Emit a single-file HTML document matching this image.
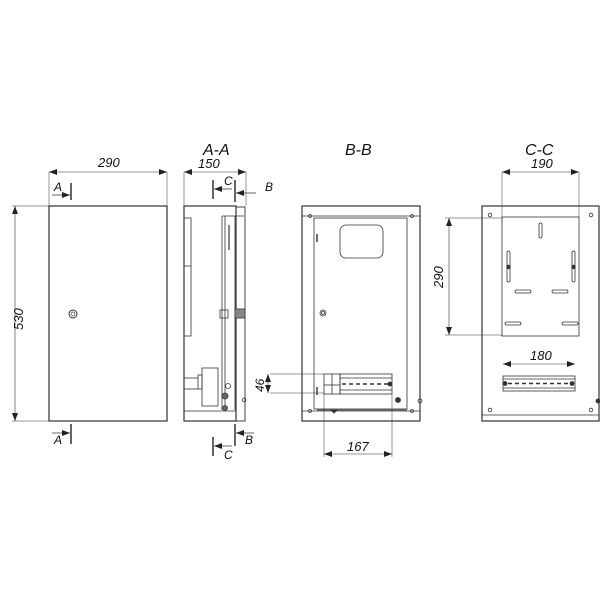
<!DOCTYPE html>
<html><head><style>
html,body{margin:0;padding:0;background:#fff;}
svg text{font-family:"Liberation Sans",sans-serif;font-style:italic;fill:#111;}
</style></head><body>
<svg width="600" height="600" viewBox="0 0 600 600" xmlns="http://www.w3.org/2000/svg">
<defs>
<marker id="ar" markerWidth="8" markerHeight="6" refX="8" refY="3" orient="auto-start-reverse" markerUnits="userSpaceOnUse">
<path d="M0,0 L8,3 L0,6 z" fill="#222"/></marker>
</defs>
<g stroke="#333" stroke-width="0.8" fill="none">
<rect x="49" y="206" width="118" height="215" stroke-width="1.2"/>
<line x1="49" y1="172" x2="49" y2="206" stroke-width="0.5"/>
<line x1="167" y1="172" x2="167" y2="206" stroke-width="0.5"/>
<line x1="49" y1="172" x2="167" y2="172" stroke-width="0.6" marker-start="url(#ar)" marker-end="url(#ar)"/>
<line x1="12" y1="206" x2="49" y2="206" stroke-width="0.5"/>
<line x1="12" y1="421" x2="49" y2="421" stroke-width="0.5"/>
<line x1="15" y1="206" x2="15" y2="421" stroke-width="0.6" marker-start="url(#ar)" marker-end="url(#ar)"/>
<circle cx="73" cy="314" r="4" stroke-width="1"/><circle cx="73" cy="314" r="2" stroke-width="0.7"/>
<line x1="71" y1="183" x2="71" y2="200" stroke-width="1.5"/>
<line x1="52" y1="195" x2="70" y2="195" stroke-width="0.7" marker-end="url(#ar)"/>
<line x1="71" y1="424" x2="71" y2="444" stroke-width="1.5"/>
<line x1="52" y1="433" x2="70" y2="433" stroke-width="0.7" marker-end="url(#ar)"/>

<rect x="184" y="206" width="52" height="215" stroke-width="1.2"/>
<rect x="236" y="207" width="9" height="214" stroke-width="0.9"/>
<line x1="184" y1="411" x2="236" y2="411"/>
<rect x="184" y="218" width="7" height="118"/>
<line x1="184" y1="266" x2="191" y2="266"/>
<line x1="222" y1="216" x2="222" y2="410"/>
<line x1="225" y1="216" x2="225" y2="410"/>
<line x1="235" y1="216" x2="235" y2="410"/>
<line x1="222" y1="216" x2="244" y2="216"/>
<line x1="229" y1="225" x2="229" y2="250" stroke-width="1.2"/>
<rect x="220" y="310" width="8" height="8"/><rect x="235" y="309" width="10" height="9" fill="#888"/>
<rect x="202" y="368" width="16" height="38"/>
<rect x="198" y="375" width="4" height="14"/>
<line x1="184" y1="378" x2="198" y2="378"/><line x1="184" y1="389" x2="198" y2="389"/>
<circle cx="228" cy="386" r="2.5"/><circle cx="225" cy="396" r="3" fill="#666"/>
<circle cx="225" cy="408" r="2.5" fill="#666"/><circle cx="244" cy="400" r="1.8"/>
<line x1="184" y1="172" x2="184" y2="206" stroke-width="0.5"/>
<line x1="246" y1="172" x2="246" y2="206" stroke-width="0.5"/>
<line x1="184" y1="172" x2="246" y2="172" stroke-width="0.6" marker-start="url(#ar)" marker-end="url(#ar)"/>
<line x1="213" y1="180" x2="213" y2="199" stroke-width="1.5"/>
<line x1="232" y1="189" x2="214" y2="189" stroke-width="0.7" marker-end="url(#ar)"/>
<line x1="235" y1="180" x2="235" y2="202" stroke-width="1.5"/>
<line x1="256" y1="193" x2="236" y2="193" stroke-width="0.7" marker-end="url(#ar)"/>
<line x1="235" y1="424" x2="235" y2="446" stroke-width="1.5"/>
<line x1="254" y1="433" x2="236" y2="433" stroke-width="0.7" marker-end="url(#ar)"/>
<line x1="213" y1="437" x2="213" y2="456" stroke-width="1.5"/>
<line x1="232" y1="446" x2="214" y2="446" stroke-width="0.7" marker-end="url(#ar)"/>

<rect x="302" y="206" width="118" height="215" stroke-width="1.2"/>
<line x1="302" y1="216" x2="420" y2="216"/>
<line x1="302" y1="411" x2="420" y2="411"/>
<rect x="314" y="218" width="93" height="191"/>
<line x1="317" y1="410" x2="407" y2="410"/>
<rect x="340" y="225" width="43" height="33" rx="6"/>
<line x1="317" y1="234" x2="317" y2="242" stroke-width="1.4"/>
<line x1="317" y1="387" x2="317" y2="395" stroke-width="1.4"/>
<circle cx="323" cy="313" r="3"/><circle cx="323" cy="313" r="1.5"/>
<circle cx="310" cy="216" r="1.5"/><circle cx="412" cy="216" r="1.5"/>
<circle cx="310" cy="411" r="1.5"/><circle cx="412" cy="411" r="1.5"/>
<rect x="324" y="374" width="16" height="20"/><line x1="332" y1="374" x2="332" y2="394"/>
<line x1="324" y1="385" x2="340" y2="385"/>
<rect x="340" y="374" width="52" height="20"/>
<line x1="340" y1="378" x2="392" y2="378"/><line x1="340" y1="390" x2="392" y2="390"/>
<line x1="342" y1="384" x2="388" y2="384" stroke-dasharray="4 3" stroke-width="1.4"/>
<circle cx="390" cy="384" r="2" fill="#333"/>
<circle cx="398" cy="400" r="2.5" fill="#333"/><circle cx="420" cy="401" r="2"/>
<path d="M331,410 l3,3 l3,-3 z" fill="#333"/>
<line x1="270" y1="374" x2="324" y2="374" stroke-width="0.5"/>
<line x1="270" y1="393" x2="324" y2="393" stroke-width="0.5"/>
<line x1="268" y1="374" x2="268" y2="393" stroke-width="0.6" marker-start="url(#ar)" marker-end="url(#ar)"/>
<line x1="324" y1="394" x2="324" y2="457" stroke-width="0.5"/>
<line x1="392" y1="394" x2="392" y2="457" stroke-width="0.5"/>
<line x1="324" y1="454" x2="392" y2="454" stroke-width="0.6" marker-start="url(#ar)" marker-end="url(#ar)"/>

<rect x="482" y="206" width="117" height="215" stroke-width="1.2"/>
<line x1="482" y1="415" x2="599" y2="415"/>
<rect x="502" y="217" width="77" height="119"/>
<line x1="502" y1="172" x2="502" y2="217" stroke-width="0.5"/>
<line x1="579" y1="172" x2="579" y2="217" stroke-width="0.5"/>
<line x1="502" y1="172" x2="579" y2="172" stroke-width="0.6" marker-start="url(#ar)" marker-end="url(#ar)"/>
<line x1="445" y1="218" x2="502" y2="218" stroke-width="0.5"/>
<line x1="445" y1="335" x2="502" y2="335" stroke-width="0.5"/>
<line x1="449" y1="218" x2="449" y2="335" stroke-width="0.6" marker-start="url(#ar)" marker-end="url(#ar)"/>
<circle cx="490" cy="215" r="1.8"/><circle cx="591" cy="215" r="1.8"/>
<circle cx="490" cy="410" r="1.8"/><circle cx="591" cy="410" r="1.8"/>
<rect x="539" y="223" width="3" height="15" rx="1.5"/>
<rect x="507" y="251" width="3" height="31" rx="1.5"/><circle cx="508.5" cy="267" r="1.8" fill="#333"/>
<rect x="572" y="251" width="3" height="31" rx="1.5"/><circle cx="573.5" cy="267" r="1.8" fill="#333"/>
<rect x="515" y="290" width="16" height="3" rx="1.5"/><rect x="552" y="290" width="16" height="3" rx="1.5"/>
<rect x="505" y="322" width="16" height="3" rx="1.5"/><rect x="562" y="322" width="16" height="3" rx="1.5"/>
<rect x="503" y="376" width="72" height="15"/>
<line x1="503" y1="379" x2="575" y2="379"/><line x1="503" y1="388" x2="575" y2="388"/>
<line x1="508" y1="383.5" x2="570" y2="383.5" stroke-dasharray="4 3" stroke-width="1.4"/>
<circle cx="505" cy="383.5" r="2" fill="#333"/><circle cx="572" cy="383.5" r="2" fill="#333"/>
<line x1="503" y1="364" x2="575" y2="364" stroke-width="0.6" marker-start="url(#ar)" marker-end="url(#ar)"/>
<circle cx="598" cy="401" r="2" fill="#333"/>
</g>
<text x="98" y="167" font-size="13">290</text>
<text x="23" y="330" font-size="13" transform="rotate(-90 23 330)">530</text>
<text x="54" y="191" font-size="12">A</text>
<text x="54" y="444" font-size="12">A</text>
<text x="203" y="155" font-size="16">A-A</text>
<text x="198" y="168" font-size="13">150</text>
<text x="224" y="185" font-size="12">C</text>
<text x="265" y="191" font-size="12">B</text>
<text x="245" y="444" font-size="12">B</text>
<text x="224" y="459" font-size="12">C</text>
<text x="345" y="155" font-size="16">B-B</text>
<text x="264" y="392" font-size="12" transform="rotate(-90 264 392)">46</text>
<text x="347" y="451" font-size="13">167</text>
<text x="525" y="155" font-size="16">C-C</text>
<text x="531" y="168" font-size="13">190</text>
<text x="443" y="288" font-size="13" transform="rotate(-90 443 288)">290</text>
<text x="530" y="360" font-size="13">180</text>
</svg>
</body></html>
